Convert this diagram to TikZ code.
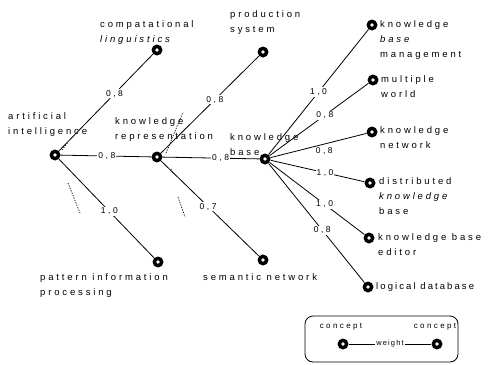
\documentclass[tikz,border=0pt]{standalone}
\usepackage{fontspec}
\setmainfont{Liberation Sans}[LetterSpace=30]
\begin{document}
\begin{tikzpicture}[x=1pt,y=-1pt,
  cnode/.style={circle,fill=black,minimum size=11pt,inner sep=0pt,
     path picture={\fill[white] (path picture bounding box.center) circle (1.8pt);}},
  txt/.style={anchor=north west,align=left,inner sep=0pt,font=\fontsize{9.5}{15}\selectfont},
  wlab/.style={fill=white,inner sep=1pt,font=\fontsize{8.5}{9}\selectfont},
  conn/.style={line width=0.8pt},
  omit/.style={line width=0.7pt,dash pattern=on 1.3pt off 1.3pt}]
\useasboundingbox (0,0) rectangle (489,364);
% concept nodes
\node[cnode] (ai) at (55,155) {};
\node[cnode] (kr) at (157,157) {};
\node[cnode] (kb) at (265,159) {};
\node[cnode] (cl) at (157,50) {};
\node[cnode] (ps) at (263,52) {};
\node[cnode] (pi) at (158,262) {};
\node[cnode] (sn) at (263,260) {};
\node[cnode] (kbm) at (372,25) {};
\node[cnode] (mw) at (373,80) {};
\node[cnode] (kn) at (372,132) {};
\node[cnode] (dkb) at (370,183) {};
\node[cnode] (ed) at (369,238) {};
\node[cnode] (ld) at (368,287) {};
% texts
\node[txt] (tcl) at (100,20) {compatational\\\textit{linguistics}};
\node[txt] (tps) at (230,10) {production\\system};
\node[txt] (tai) at (8,112) {artificial\\intelligence};
\node[txt] (tkr) at (115,117) {knowledge\\representation};
\node[txt] (tkb) at (230,133) {knowledge\\base};
\node[txt] (tpi) at (40,273) {pattern information\\processing};
\node[txt] (tsn) at (203,273) {semantic network};
\node[txt] (tkbm) at (380,20) {knowledge\\\textit{base}\\management};
\node[txt] (tmw) at (381,75) {multiple\\world};
\node[txt] (tkn) at (380,126) {knowledge\\network};
\node[txt] (tdkb) at (379,177) {distributed\\\textit{knowledge}\\base};
\node[txt] (ted) at (378,233) {knowledge base\\editor};
\node[txt,font=\fontsize{9.5}{15}\selectfont\addfontfeature{LetterSpace=22}] (tld) at (376,282) {logical database};
% connectors
\draw[conn] (ai) -- node[wlab,pos=0.59] {0,8} (cl);
\draw[conn] (ai) -- node[wlab,pos=0.51] {0,8} (kr);
\draw[conn] (ai) -- node[wlab,pos=0.53] {1,0} (pi);
\draw[conn] (kr) -- node[wlab,pos=0.55] {0,8} (ps);
\draw[conn] (kr) -- node[wlab,pos=0.6] {0,8} (kb);
\draw[conn] (kr) -- node[wlab,pos=0.48] {0,7} (sn);
\draw[conn] (kb) -- node[wlab,pos=0.5] {1,0} (kbm);
\draw[conn] (kb) -- node[wlab,pos=0.56] {0,8} (mw);
\draw[conn] (kb) -- node[wlab,pos=0.56,below=2pt,fill=none] {0,8} (kn);
\draw[conn] (kb) -- node[wlab,pos=0.58] {1,0} (dkb);
\draw[conn] (kb) -- node[wlab,pos=0.58] {1,0} (ed);
\draw[conn] (kb) -- node[wlab,pos=0.56] {0,8} (ld);
% omitted branches
\draw[omit] (62,150) -- (68,142);
\draw[omit] (68,183) -- (80,213);
\draw[omit] (166,153) -- (183,112);
\draw[omit] (171,169) -- (173,174);
\draw[omit] (178,197) -- (185,217);
% legend
\draw[line width=0.8pt,rounded corners=8pt] (305,316) rectangle (458,362);
\node[font=\fontsize{8}{9}\selectfont] (lc1) at (341,327) {concept};
\node[font=\fontsize{8}{9}\selectfont] (lc2) at (435,327) {concept};
\node[cnode] (ln1) at (343,344) {};
\node[cnode] (ln2) at (437,344) {};
\draw[conn] (ln1) -- node[wlab,font=\fontsize{7.5}{8}\selectfont\addfontfeature{LetterSpace=15}] {weight} (ln2);
\end{tikzpicture}
\end{document}
